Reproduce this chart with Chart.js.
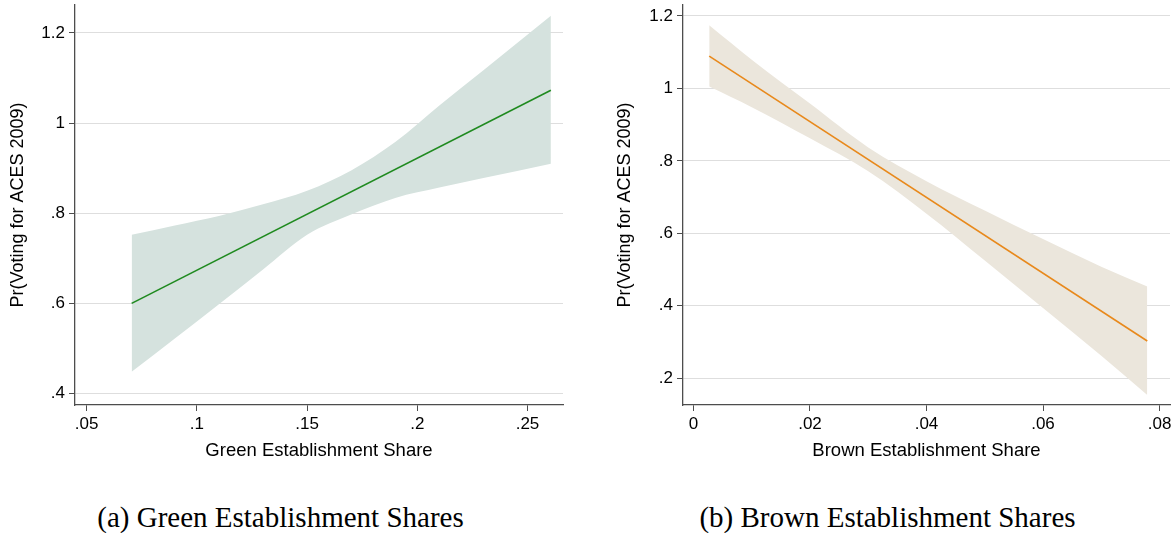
<!DOCTYPE html>
<html lang="en">
<head>
  <meta charset="UTF-8" />
  <title>ACES 2009 vote probability</title>
  <style>
body {
    margin: 0;
    background: #fff;
    width: 1175px;
    height: 533px;
    position: relative;
    overflow: hidden;
    font-family: Arial, 'Liberation Sans', sans-serif;
}

.panel {
    position: absolute;
    top: 0;
}

#leftBox { left: 0; width: 580px; height: 470px; }
#rightBox { left: 590px; width: 585px; height: 470px; }

.caption {
    position: absolute;
    top: 499px;
    font-family: 'Liberation Serif', 'Times New Roman', serif;
    font-size: 29px;
    line-height: 36px;
    text-align: center;
    color: #000;
}
  </style>
</head>
<body>

  <div class="panel" id="leftBox"><canvas id="greenChart" width="580" height="470"></canvas></div>
  <div class="panel" id="rightBox"><canvas id="brownChart" width="585" height="470"></canvas></div>

  <div class="caption" style="left:0; width:561px;">(a) Green Establishment Shares</div>
  <div class="caption" style="left:600px; width:575px;">(b) Brown Establishment Shares</div>

  <script src="https://cdn.jsdelivr.net/npm/chart.js"></script>

  <script>
    // panel (a): green establishment share
    const greenX = [0.0704, 0.09, 0.11, 0.13, 0.15, 0.17, 0.19, 0.21, 0.23, 0.2606];
    const greenUpper = [0.752, 0.773, 0.794, 0.820, 0.850, 0.895, 0.958, 1.039, 1.117, 1.238];
    const greenLower = [0.448, 0.522, 0.598, 0.675, 0.752, 0.797, 0.834, 0.857, 0.878, 0.910];
    const greenLineX = [0.0704, 0.2606];
    const greenLineY = [0.600, 1.073];
    const greenXTicks = [0.05, 0.1, 0.15, 0.2, 0.25];
    const greenXLabels = ['.05', '.1', '.15', '.2', '.25'];
    const greenYTicks = [0.4, 0.6, 0.8, 1.0, 1.2];
    const greenYLabels = ['.4', '.6', '.8', '1', '1.2'];

    // panel (b): brown establishment share
    const brownX = [0.0027, 0.01, 0.02, 0.03, 0.04, 0.05, 0.06, 0.07, 0.0779];
    const brownUpper = [1.174, 1.079, 0.958, 0.837, 0.744, 0.663, 0.584, 0.508, 0.453];
    const brownLower = [1.005, 0.948, 0.862, 0.771, 0.654, 0.525, 0.394, 0.262, 0.154];
    const brownLineX = [0.0027, 0.0779];
    const brownLineY = [1.089, 0.303];
    const brownXTicks = [0, 0.02, 0.04, 0.06, 0.08];
    const brownXLabels = ['0', '.02', '.04', '.06', '.08'];
    const brownYTicks = [0.2, 0.4, 0.6, 0.8, 1.0, 1.2];
    const brownYLabels = ['.2', '.4', '.6', '.8', '1', '1.2'];

    const yTitle = 'Pr(Voting for ACES 2009)';
    const axisColor = '#4d4d4d';

    function pts(xs, ys) {
      return xs.map((x, i) => ({ x: x, y: ys[i] }));
    }

    function makeChart(id, o) {
      const ctx = document.getElementById(id).getContext('2d');
      return new Chart(ctx, {
        type: 'line',
        data: {
          datasets: [
            {
              data: pts(o.lineX, o.lineY),
              borderColor: o.lineColor,
              borderWidth: 1.6,
              pointRadius: 0,
              fill: false,
              order: 0
            },
            {
              data: pts(o.bandX, o.upper),
              borderWidth: 0,
              borderColor: 'rgba(0,0,0,0)',
              backgroundColor: o.bandColor,
              pointRadius: 0,
              cubicInterpolationMode: 'monotone',
              fill: '+1',
              order: 1
            },
            {
              data: pts(o.bandX, o.lower),
              borderWidth: 0,
              borderColor: 'rgba(0,0,0,0)',
              pointRadius: 0,
              cubicInterpolationMode: 'monotone',
              fill: false,
              order: 2
            }
          ]
        },
        options: {
          responsive: false,
          animation: false,
          layout: { padding: { top: 5, right: o.padRight, left: 0, bottom: 0 } },
          plugins: { legend: { display: false }, tooltip: { enabled: false } },
          scales: {
            x: {
              type: 'linear',
              min: o.xMin,
              max: o.xMax,
              afterBuildTicks: s => { s.ticks = o.xTicks.map(v => ({ value: v })); },
              afterFit: s => { s.height = 65; s.paddingLeft = 0; s.paddingRight = 0; },
              ticks: {
                callback: (v, i) => o.xLabels[i],
                color: '#000',
                font: { size: 17 },
                padding: 3,
                maxRotation: 0,
                autoSkip: false
              },
              grid: { drawOnChartArea: false, drawTicks: true, tickLength: 6, color: axisColor },
              border: { color: axisColor, width: 1.3 },
              title: {
                display: true,
                text: o.xTitle,
                color: '#000',
                font: { size: 18.5 },
                padding: { top: 0, bottom: 8 }
              }
            },
            y: {
              type: 'linear',
              min: o.yMin,
              max: o.yMax,
              afterBuildTicks: s => { s.ticks = o.yTicks.map(v => ({ value: v })); },
              afterFit: s => { s.width = o.yWidth; s.paddingTop = 0; s.paddingBottom = 0; },
              ticks: {
                callback: (v, i) => o.yLabels[i],
                color: '#000',
                font: { size: 17 },
                padding: 4,
                autoSkip: false
              },
              grid: { color: '#dedede', tickColor: axisColor, drawTicks: true, tickLength: 6 },
              border: { color: axisColor, width: 1.3 },
              title: {
                display: true,
                text: yTitle,
                color: '#000',
                font: { size: 18 },
                padding: { top: o.yTitlePad, bottom: 0 }
              }
            }
          }
        }
      });
    }

    makeChart('greenChart', {
      lineX: greenLineX, lineY: greenLineY,
      bandX: greenX, upper: greenUpper, lower: greenLower,
      lineColor: '#1f8a1f', bandColor: '#d5e2de',
      xMin: 0.0447, xMax: 0.2661, yMin: 0.3745, yMax: 1.262,
      xTicks: greenXTicks, xLabels: greenXLabels,
      yTicks: greenYTicks, yLabels: greenYLabels,
      xTitle: 'Green Establishment Share',
      yWidth: 75, padRight: 17, yTitlePad: 7.5
    });

    makeChart('brownChart', {
      lineX: brownLineX, lineY: brownLineY,
      bandX: brownX, upper: brownUpper, lower: brownLower,
      lineColor: '#e8891c', bandColor: '#ebe6dc',
      xMin: -0.0018, xMax: 0.0818, yMin: 0.1263, yMax: 1.230,
      xTicks: brownXTicks, xLabels: brownXLabels,
      yTicks: brownYTicks, yLabels: brownYLabels,
      xTitle: 'Brown Establishment Share',
      yWidth: 93, padRight: 5, yTitlePad: 24.5
    });
  </script>
</body>
</html>
